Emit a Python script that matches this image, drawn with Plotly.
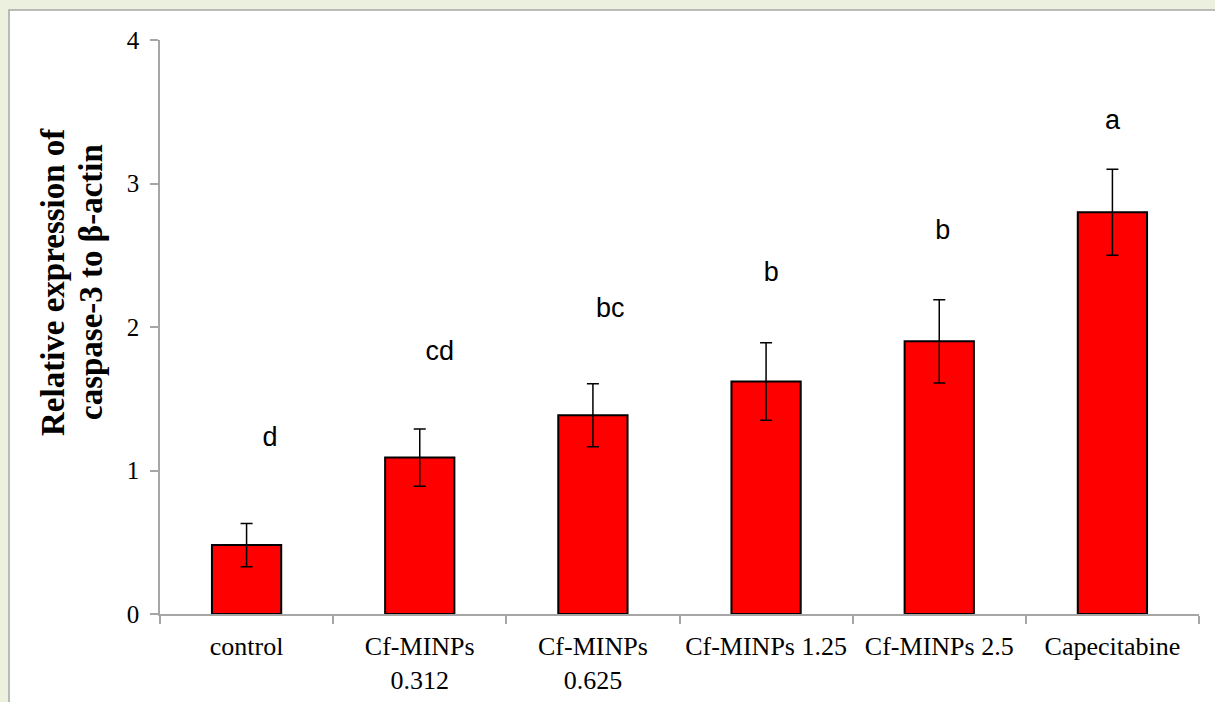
import plotly.graph_objects as go

categories = ["control", "Cf-MINPs<br>0.312", "Cf-MINPs<br>0.625", "Cf-MINPs 1.25", "Cf-MINPs 2.5", "Capecitabine"]
values = [0.48, 1.09, 1.385, 1.62, 1.90, 2.80]
errors = [0.15, 0.20, 0.22, 0.27, 0.29, 0.30]
letters = ["d", "cd", "bc", "b", "b", "a"]
letter_x = [0.135, 1.115, 2.10, 3.03, 4.02, 5.0]   # category index positions of the letters
letter_y = [1.22, 1.82, 2.12, 2.37, 2.66, 3.43]
y_ticks = [0, 1, 2, 3, 4]
title_lines = ["Relative expression of", "caspase-3 to β-actin"]

W, H = 1215, 702
ml, mr, mt, mb = 160, 16, 40, 88
pw, ph = W - ml - mr, H - mt - mb

fig = go.Figure()
fig.add_trace(go.Bar(
    x=categories, y=values, width=0.4,
    marker=dict(color="#FF0000", line=dict(color="#000000", width=2)),
    error_y=dict(type="data", array=errors, visible=True, color="#000000", thickness=1.5, width=6),
    showlegend=False,
))
fig.add_trace(go.Scatter(
    x=letter_x, y=letter_y, mode="text", text=letters, xaxis="x2",
    textfont=dict(family="Liberation Sans", size=27, color="#000000"),
    textposition="middle center", showlegend=False, hoverinfo="skip",
))

# white chart-area frame over light green page background
fig.add_shape(type="rect", xref="paper", yref="paper", layer="below",
              x0=(9 - ml) / pw, x1=(W + 20 - ml) / pw,
              y0=(H - (H + 20) - mb) / ph, y1=(H - 10 - mb) / ph,
              fillcolor="#FFFFFF", line=dict(color="#A6A6A6", width=1.5))

# y-axis title, two rotated lines
for px_x, line in zip([53, 91], title_lines):
    fig.add_annotation(
        text="<b>" + line + "</b>", textangle=-90, showarrow=False,
        xref="paper", yref="paper",
        x=(px_x - ml) / pw, y=(H - mb - 282) / ph,
        xanchor="center", yanchor="middle",
        font=dict(family="Liberation Serif", size=33, color="#000000"),
    )

fig.update_layout(
    width=W, height=H,
    margin=dict(l=ml, r=mr, t=mt, b=mb, pad=0, autoexpand=False),
    paper_bgcolor="#EBF1DE", plot_bgcolor="#FFFFFF",
    bargap=0.6,
    font=dict(family="Liberation Serif", color="#000000"),
    xaxis=dict(
        type="category", showline=True, linecolor="#A6A6A6", linewidth=1.5,
        ticks="outside", tickson="boundaries", ticklen=8, tickcolor="#A6A6A6", tickwidth=1.5,
        tickfont=dict(family="Liberation Serif", size=26, color="#000000"),
        showgrid=False, zeroline=False, range=[-0.5, 5.5], ticklabelstandoff=8,
        automargin=False,
    ),
    xaxis2=dict(overlaying="x", range=[-0.5, 5.5], visible=False, showgrid=False, zeroline=False),
    yaxis=dict(
        range=[0, 4], tickvals=y_ticks, showline=True, linecolor="#A6A6A6", linewidth=1.5,
        ticks="outside", ticklen=8, tickcolor="#A6A6A6", tickwidth=1.5,
        tickfont=dict(family="Liberation Serif", size=25, color="#000000"),
        showgrid=False, zeroline=False, ticklabelstandoff=6, automargin=False,
    ),
)

fig.write_html("out.html", config={"displayModeBar": False},
               post_script="document.body.style.margin='0';document.body.style.overflow='hidden';")
